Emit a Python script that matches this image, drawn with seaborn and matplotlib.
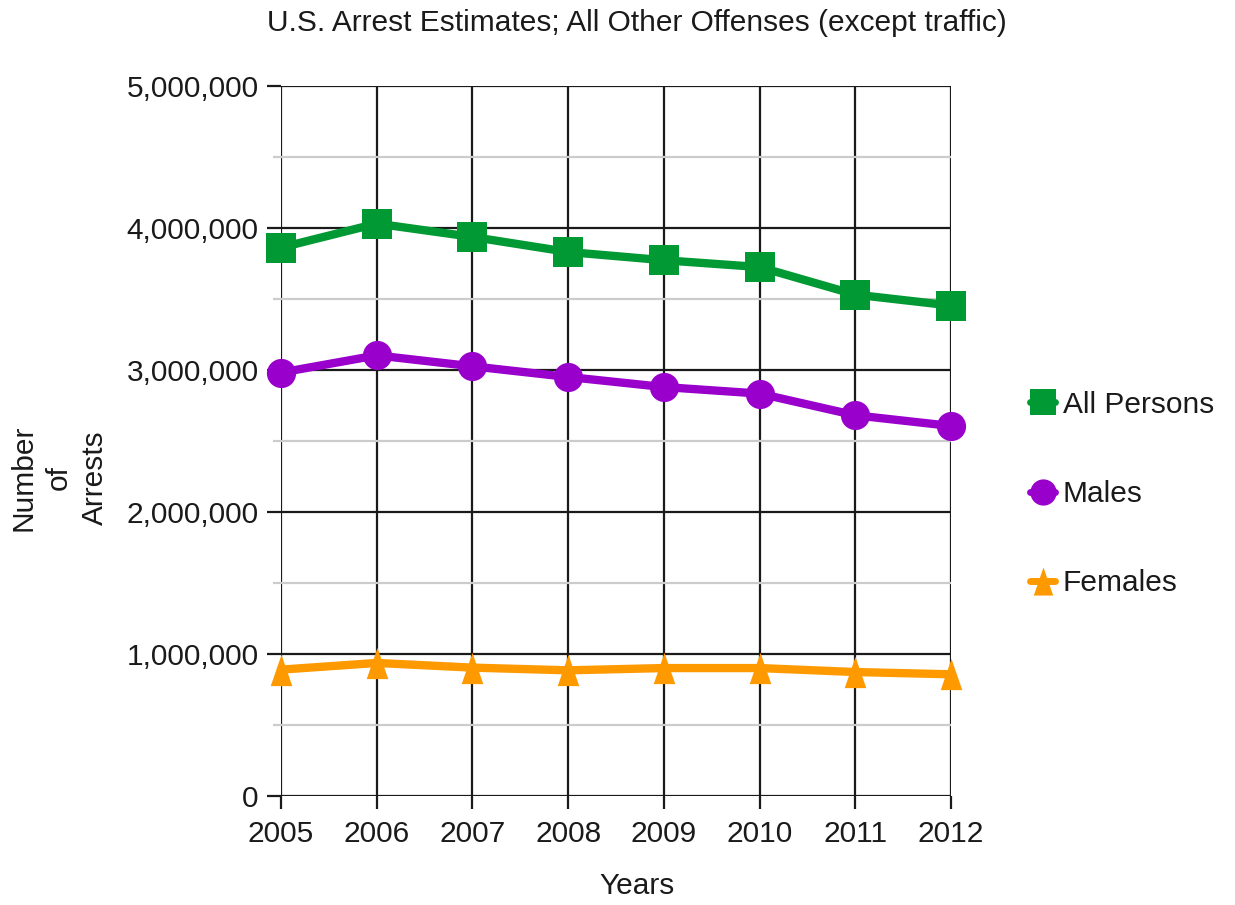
import matplotlib
matplotlib.use("Agg")
import matplotlib.pyplot as plt
from matplotlib.ticker import FuncFormatter, MultipleLocator
import pandas as pd
import seaborn as sns

years = [2005, 2006, 2007, 2008, 2009, 2010, 2011, 2012]
all_persons = [3862000, 4031000, 3937000, 3831000, 3773000, 3725000, 3531000, 3454000]
males = [2982000, 3103000, 3026000, 2951000, 2880000, 2834000, 2681000, 2606000]
females = [890000, 937000, 904000, 885000, 901000, 901000, 873000, 857000]

series_names = ["All Persons", "Males", "Females"]
series_values = [all_persons, males, females]
series_colors = ["#009933", "#9900CC", "#FF9900"]
# tall narrow triangle for the female series
tri = [(-0.69, -1.0), (0.0, 1.0), (0.69, -1.0), (-0.69, -1.0)]
series_markers = ["s", "o", tri]
series_msize = [21.5, 21.0, 22.5]

sns.set_theme(style="white")
plt.rcParams["font.family"] = ["Liberation Sans", "DejaVu Sans"]
plt.rcParams["text.color"] = "#1a1a1a"

FS = 21.5

rows = []
for name, vals in zip(series_names, series_values):
    for y, v in zip(years, vals):
        rows.append({"Year": y, "Arrests": v, "Series": name})
df = pd.DataFrame(rows)

fig = plt.figure(figsize=(12.35, 9.05), dpi=100)
ax = fig.add_axes([281 / 1235, 1 - 796 / 905, (951 - 281) / 1235, (796 - 86) / 905])

for name, color, marker, ms in zip(series_names, series_colors, series_markers, series_msize):
    sns.lineplot(
        data=df[df["Series"] == name], x="Year", y="Arrests", ax=ax,
        color=color, marker=marker, markersize=ms, markeredgewidth=0,
        linewidth=6, label=name, clip_on=False, zorder=5,
    )

ax.set_xlim(2005, 2012)
ax.set_ylim(0, 5000000)
ax.set_xticks(years)
ax.set_xticklabels([str(y) for y in years])
ax.yaxis.set_major_locator(MultipleLocator(1000000))
ax.yaxis.set_minor_locator(MultipleLocator(500000))
ax.yaxis.set_major_formatter(FuncFormatter(lambda v, p: f"{int(v):,}"))

ax.grid(which="major", axis="both", color="#1a1a1a", linewidth=1.6, zorder=1)
ax.grid(which="minor", axis="y", color="#cccccc", linewidth=1.6, zorder=0)
ax.set_axisbelow(True)
for s in ax.spines.values():
    s.set_visible(False)

ax.tick_params(axis="y", which="major", left=True, length=10, width=1.6, color="#1a1a1a",
               pad=6, labelsize=FS, labelcolor="#1a1a1a")
ax.tick_params(axis="y", which="minor", left=True, length=6, width=1.6, color="#cccccc")
ax.tick_params(axis="x", which="major", bottom=True, length=9, width=1.6, color="#1a1a1a",
               pad=8, labelsize=FS, labelcolor="#1a1a1a")

ax.set_xlabel("")
ax.set_ylabel("")
handles, labels = ax.get_legend_handles_labels()
ax.get_legend().remove()

fig.text(637 / 1235, 1 - 23 / 905, "U.S. Arrest Estimates; All Other Offenses (except traffic)",
         ha="center", va="center", fontsize=21.5)
fig.text(637 / 1235, 1 - 886 / 905, "Years", ha="center", va="center", fontsize=FS)
fig.text(59 / 1235, 1 - 478 / 905, "Number\nof\nArrests", ha="center", va="center",
         rotation=90, fontsize=FS, multialignment="center", linespacing=1.35)

leg = fig.legend(handles, labels, loc="center left", bbox_to_anchor=(1003 / 1235, 1 - 494 / 905),
                 frameon=False, fontsize=FS, handlelength=0.85, handletextpad=0.25,
                 labelspacing=2.05, markerscale=0.9)
for h in leg.legend_handles:
    h.set_linewidth(5)

fig.savefig("out.png", dpi=100)
